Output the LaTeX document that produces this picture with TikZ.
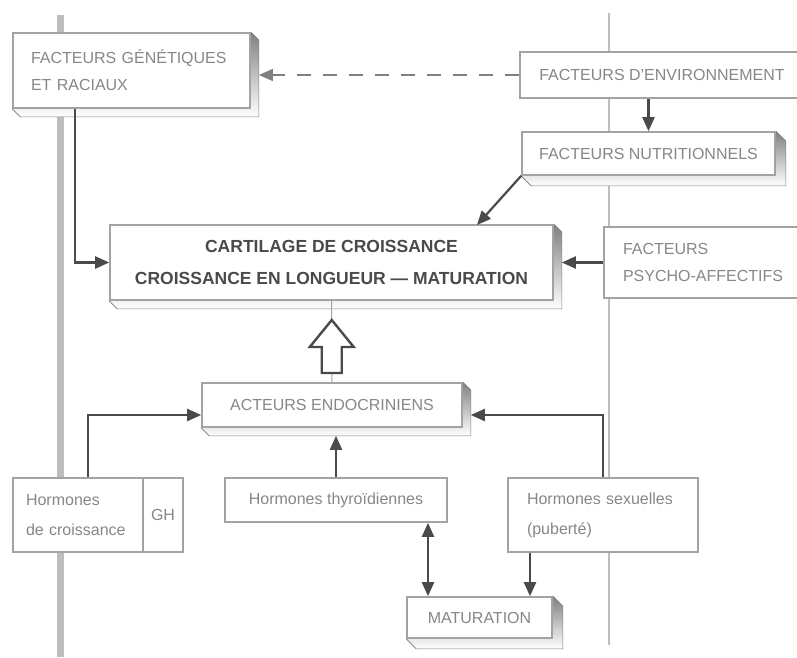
\documentclass[tikz,border=0pt]{standalone}
\usepackage{fontspec}
\setmainfont{Liberation Sans}
\usetikzlibrary{arrows.meta,calc,backgrounds}

\definecolor{boxline}{HTML}{A3A3A3}
\definecolor{shade}{HTML}{A2A2A2}
\definecolor{txt}{HTML}{878787}
\definecolor{dark}{HTML}{4A4A4A}
\definecolor{rulegray}{HTML}{BDBDBD}

\tikzset{
  box/.style={draw=boxline, line width=1.6pt, fill=white, inner sep=0pt,
    text=txt, font=\fontsize{16}{27}\selectfont, align=center},
  lbox/.style={box, align=left},
  mainbox/.style={box, text=dark, font=\bfseries\fontsize{17.5}{32}\selectfont},
  link/.style={draw=dark, line width=2.2pt,
    -{Triangle[length=14pt,width=12pt]}},
  dlink/.style={draw=dark, line width=2.2pt,
    {Triangle[length=14pt,width=12pt]}-{Triangle[length=14pt,width=12pt]}},
  dashlink/.style={link, draw=dark!70, dash pattern=on 14pt off 12pt, line width=1.3pt},
  hollow/.style={draw=dark, line width=2.4pt, fill=white, line join=miter},
}

% extruded grey side on the right and bottom of a box
\newcommand\boxdepth[2]{%
  \fill[shade, draw=boxline!80!black, line width=0.6pt]
    (#1.north east) -- ++(#2,#2) -- ($(#1.south east)+(#2,#2)$)
    -- ($(#1.south west)+(#2,#2)$) -- (#1.south west) -- cycle;}

\begin{document}
\begin{tikzpicture}[x=1pt,y=-1pt]
\useasboundingbox (0,0) rectangle (797,657);

% page rules running behind the chart
\begin{pgfonlayer}{background}
  \draw[rulegray, line width=7pt] (60,15) -- (60,657);
  \draw[rulegray, line width=2.5pt] (609,13) -- (609,645);
\end{pgfonlayer}

% boxes
\node[lbox, minimum height=75pt, inner xsep=18pt, text width=201pt]
  (gen) at (131.5,70.5) {FACTEURS GÉNÉTIQUES\\ET RACIAUX};
\node[box, minimum width=284pt, minimum height=46pt]
  (env) at (662,75) {FACTEURS D'ENVIRONNEMENT};
\node[box, minimum width=253pt, minimum height=43pt]
  (nutri) at (648.5,153.5) {FACTEURS NUTRITIONNELS};
\node[mainbox, minimum width=443pt, minimum height=75pt]
  (central) at (331.5,262.5) {CARTILAGE DE CROISSANCE\\CROISSANCE EN LONGUEUR — MATURATION};
\node[lbox, minimum height=71pt, inner xsep=19pt, text width=162pt]
  (psycho) at (704,262.5) {FACTEURS\\PSYCHO-AFFECTIFS};
\node[box, minimum width=260pt, minimum height=44pt]
  (acteurs) at (332,405) {ACTEURS ENDOCRINIENS};
\node[lbox, minimum height=74pt, inner xsep=13pt, text width=104pt,
  font=\fontsize{16}{30}\selectfont]
  (hgc) at (78,515) {Hormones\\de croissance};
\node[box, minimum width=40pt, minimum height=74pt]
  (gh) at (163,515) {GH};
\node[box, minimum width=222pt, minimum height=44pt]
  (thy) at (336,500) {Hormones thyroïdiennes};
\node[lbox, minimum height=74pt, inner xsep=19pt, text width=152pt,
  font=\fontsize{16}{30}\selectfont]
  (sex) at (603,515) {Hormones sexuelles\\(puberté)};
\node[box, minimum width=145pt, minimum height=41pt]
  (mat) at (479.5,617.5) {MATURATION};

% depth of the raised boxes
\begin{pgfonlayer}{background}
  \boxdepth{gen}{8}
  \boxdepth{nutri}{10}
  \boxdepth{central}{8}
  \boxdepth{acteurs}{8}
  \boxdepth{mat}{10}
\end{pgfonlayer}

% helper points for connector ends
\coordinate (genside) at ([xshift=8pt]gen.east);
\coordinate (nutritip) at (477,225);
\coordinate (centside) at ([xshift=8pt]central.east);
\coordinate (actleft) at ([yshift=-10pt]acteurs.west);
\coordinate (actright) at ([xshift=8pt,yshift=-10pt]acteurs.east);
\coordinate (actbase) at ([yshift=-8pt]acteurs.south);
\coordinate (dblx) at (428,0);
\coordinate (sexx) at (530,0);

% connectors
\draw[dashlink] (env.west) -- (env.west -| genside);
\draw[link] (env.south -| nutri.north) -- (nutri.north);
\draw[link] (nutri.south west) -- (nutritip);
\draw[link] ([xshift=-56.5pt]gen.south) |- (central.west);
\draw[link] (psycho.west) -- (psycho.west -| centside);
\draw[link] ([xshift=10pt]hgc.north) |- (actleft);
\draw[link] (sex.north) |- (actright);
\draw[link] (thy.north) -- (thy.north |- actbase);
\draw[dlink] (thy.south -| dblx) -- (mat.north -| dblx);
\draw[link] (sex.south -| sexx) -- (mat.north -| sexx);

% broad hollow arrow from the endocrine box up to the cartilage
\draw[boxline, line width=1pt] (central.south) -- (acteurs.north);
\coordinate (ha) at ($(central.south)!0.5!(acteurs.north)$);
\draw[hollow] ($(ha)+(0,-21.5)$) -- ++(22,27) -- ++(-12,0) -- ++(0,26)
  -- ++(-20,0) -- ++(0,-26) -- ++(-12,0) -- cycle;
\end{tikzpicture}
\end{document}
